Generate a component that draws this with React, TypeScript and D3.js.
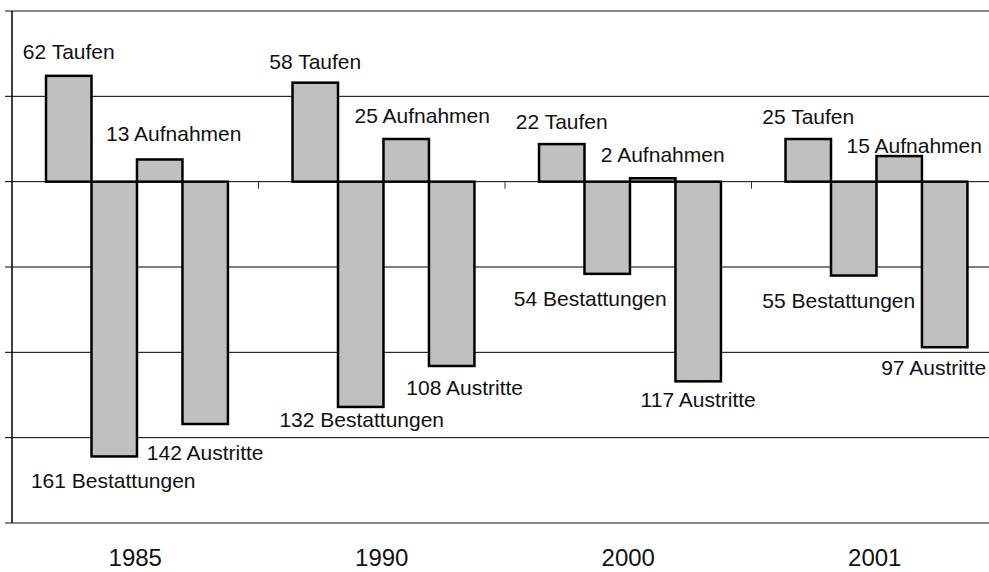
import React, { useEffect, useRef } from "react";
import * as d3 from "d3";

const years = ["1985", "1990", "2000", "2001"];
const seriesNames = ["Taufen", "Bestattungen", "Aufnahmen", "Austritte"];
const taufen = [62, 58, 22, 25];
const bestattungen = [161, 132, 54, 55];
const aufnahmen = [13, 25, 2, 15];
const austritte = [142, 108, 117, 97];
// Taufen and Aufnahmen go up, Bestattungen and Austritte go down
const seriesSign = [1, -1, 1, -1];
const yTicks = [100, 50, 0, -50, -100, -150, -200];

// hand-placed label nudges (dx from bar centre, dy from bar end)
const labelDx = [
  [0, 0, 0, 0],
  [-1, 1, -17, -15],
  [14, 16, 10, 15],
  [0, 13, 0, -11],
];
const labelDy = [
  [-17, -14, -15, -15],
  [32, 20, 32, 32],
  [-18, -16, -16, -3],
  [36, 29, 26, 28],
];

const W = 989;
const H = 572;

const App = () => {
  const svgRef = useRef<SVGSVGElement>(null);

  useEffect(() => {
    const svg = d3.select(svgRef.current);
    svg.selectAll("*").remove();

    const values = [taufen, bestattungen, aufnahmen, austritte];
    const left = 12;
    const right = 998;
    const top = 11;
    const bottom = 523;

    const x = d3.scaleBand().domain(years).range([left, right]).padding(0);
    const bw = x.bandwidth();
    const inner = d3
      .scaleBand()
      .domain(seriesNames)
      .range([bw * 0.138, bw * 0.876])
      .padding(0);
    const y = d3.scaleLinear().domain([-200, 100]).range([bottom, top]);

    const font = "Arial, 'Liberation Sans', sans-serif";

    // gridlines
    svg
      .append("g")
      .selectAll("line")
      .data(yTicks)
      .enter()
      .append("line")
      .attr("x1", left - 7)
      .attr("x2", right)
      .attr("y1", (d) => y(d))
      .attr("y2", (d) => y(d))
      .attr("stroke", (d) => (d === 100 || d === -200 ? "#888" : "#000"))
      .attr("stroke-width", (d) => (d === 100 || d === -200 ? 2 : 1));

    // category ticks on the zero line
    svg
      .append("g")
      .selectAll("line")
      .data(years.slice(1))
      .enter()
      .append("line")
      .attr("x1", (d) => x(d)!)
      .attr("x2", (d) => x(d)!)
      .attr("y1", y(0))
      .attr("y2", y(0) + 7)
      .attr("stroke", "#333")
      .attr("stroke-width", 1);

    // bars
    seriesNames.forEach((name, si) => {
      svg
        .append("g")
        .selectAll("rect")
        .data(values[si])
        .enter()
        .append("rect")
        .attr("x", (_, i) => x(years[i])! + inner(name)!)
        .attr("width", inner.bandwidth())
        .attr("y", (d) => Math.min(y(0), y(d * seriesSign[si])))
        .attr("height", (d) => Math.abs(y(0) - y(d * seriesSign[si])))
        .attr("fill", "#c0c0c0")
        .attr("stroke", "#000")
        .attr("stroke-width", 2.5);
    });

    // left axis
    svg
      .append("line")
      .attr("x1", left)
      .attr("x2", left)
      .attr("y1", top)
      .attr("y2", bottom)
      .attr("stroke", "#000")
      .attr("stroke-width", 1.5);

    // data labels
    seriesNames.forEach((name, si) => {
      svg
        .append("g")
        .selectAll("text")
        .data(values[si])
        .enter()
        .append("text")
        .attr(
          "x",
          (_, i) =>
            x(years[i])! + inner(name)! + inner.bandwidth() / 2 + labelDx[si][i]
        )
        .attr("y", (d, i) => y(d * seriesSign[si]) + labelDy[si][i])
        .attr("text-anchor", "middle")
        .style("font-family", font)
        .style("font-size", "21px")
        .attr("fill", "#111")
        .text((d) => `${d} ${name}`);
    });

    // year labels
    svg
      .append("g")
      .selectAll("text")
      .data(years)
      .enter()
      .append("text")
      .attr("x", (d) => x(d)! + bw / 2)
      .attr("y", 566)
      .attr("text-anchor", "middle")
      .style("font-family", font)
      .style("font-size", "24px")
      .attr("fill", "#111")
      .text((d) => d);
  }, []);

  return (
    <div style={{ position: "absolute", left: 0, top: 0, width: W, height: H, background: "#fff" }}>
      <svg ref={svgRef} width={W} height={H} style={{ display: "block", overflow: "hidden" }} />
    </div>
  );
};

export default App;
